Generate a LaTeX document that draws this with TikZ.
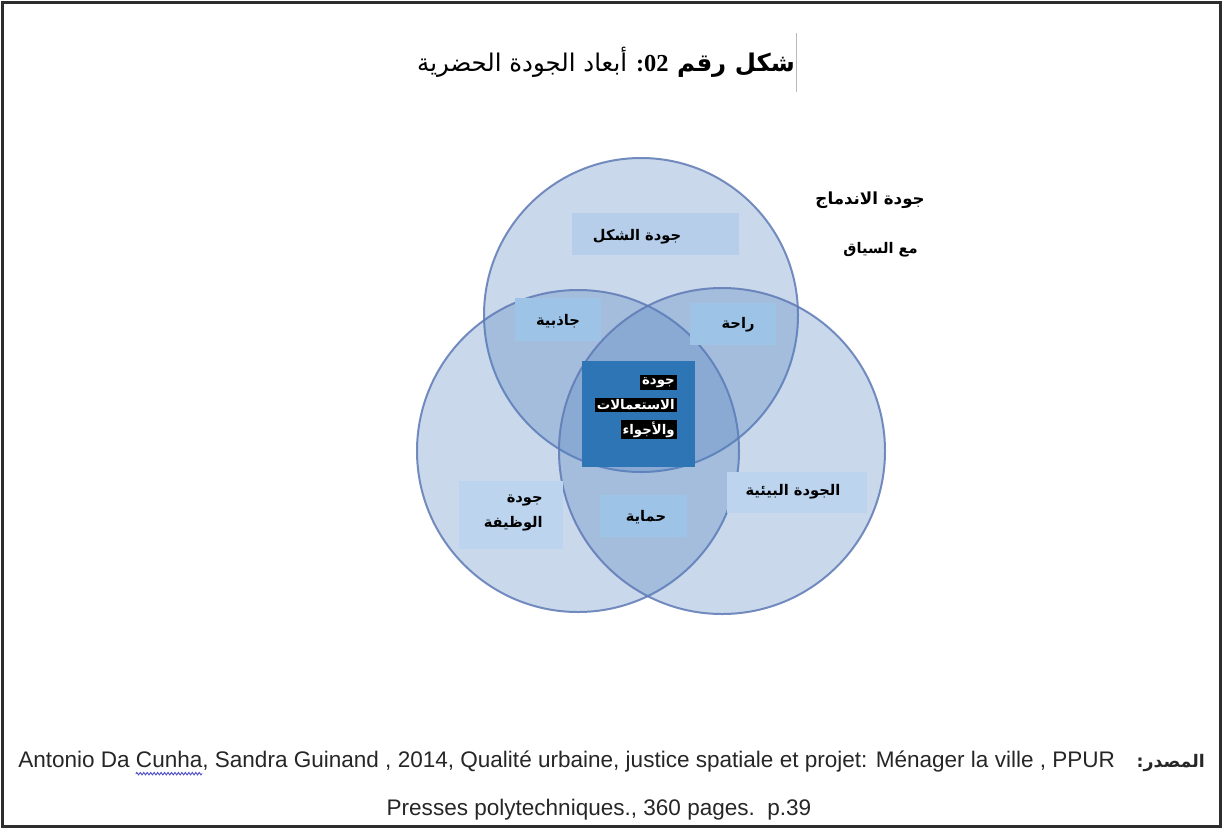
\documentclass[tikz,border=0pt]{standalone}
\usepackage{fontspec}
\setmainfont{Liberation Sans}
\newfontfamily\ar[Script=Arabic]{DejaVu Sans}
\newfontfamily\tnum{Liberation Serif}
\TeXXeTstate=1
\usetikzlibrary{decorations.pathmorphing}
\definecolor{cfill}{RGB}{79,129,189}
\definecolor{cline}{RGB}{95,122,182}
\definecolor{boxlight}{RGB}{188,212,238}
\definecolor{boxshakl}{RGB}{182,206,234}
\definecolor{boxmid}{RGB}{157,195,230}
\definecolor{boxdark}{RGB}{46,117,182}
\definecolor{framecol}{RGB}{45,45,45}
\definecolor{wavecol}{RGB}{80,80,200}
\newlength\wavestart
\newlength\wavelen
\newcommand\footfont{\fontsize{16.9}{20}\selectfont}
\begin{document}
\settowidth{\wavestart}{\footfont Antonio Da }%
\settowidth{\wavelen}{\footfont Cunha}%
\begin{tikzpicture}[x=0.75pt,y=-0.75pt,
  venn/.style={fill=cfill, fill opacity=0.3, draw=cline, draw opacity=0.85, line width=1.5pt},
  lblbox/.style={draw=none, inner sep=0pt},
  artext/.style={font=\ar\bfseries\fontsize{11}{19}\selectfont, text=black, inner sep=0pt},
  hiline/.style={font=\ar\bfseries\fontsize{10}{12}\selectfont, fill=black, text=white, inner xsep=1.5pt, inner ysep=1.5pt, anchor=east},
  foot/.style={font=\footfont, inner sep=0pt, text=black!85}]
\useasboundingbox (0,0) rectangle (1223,829);
\fill[white] (0,0) rectangle (1223,829);
\draw[framecol, line width=2pt] (2.5,2.5) rectangle (1220.5,826.5);

% title
\node[anchor=east, inner sep=0pt] (title) at (795,62)
  {\fontsize{18.3}{22}\selectfont\beginR{\ar\bfseries شكل رقم }{\tnum\bfseries\beginL 02\endL:} {\ar أبعاد الجودة الحضرية}\endR};
\draw[gray!55, line width=0.6pt] (796,33) -- (796,92);

% venn circles
\path[venn] (641,315) circle (157);
\path[venn] (578,451) circle (161);
\path[venn] (722,451) circle (163);

% boxes
\node[lblbox, fill=boxshakl, minimum width=125.25pt, minimum height=31.5pt] (bshakl) at (655.5,234) {};
\node[lblbox, fill=boxmid, minimum width=64.5pt, minimum height=32.25pt] (bjadh) at (558,319.5) {};
\node[lblbox, fill=boxmid, minimum width=64.5pt, minimum height=31.5pt] (braha) at (733,324) {};
\node[lblbox, fill=boxdark, minimum width=84.75pt, minimum height=79.5pt] (bcent) at (638.5,414) {};
\node[lblbox, fill=boxlight, minimum width=78pt, minimum height=51pt] (bwadh) at (511,515) {};
\node[lblbox, fill=boxmid, minimum width=65.25pt, minimum height=31.5pt] (bhim) at (643.5,516) {};
\node[lblbox, fill=boxlight, minimum width=105pt, minimum height=30.75pt] (bbii) at (797,492.5) {};

% labels
\node[artext] (tshakl) at (637,237) {\beginR جودة الشكل\endR};
\node[artext] (tjadh) at (558,321) {\beginR جاذبية\endR};
\node[artext] (traha) at (738,325) {\beginR راحة\endR};
\node[hiline] (c1) at (677,382.5) {\beginR جودة\endR};
\node[hiline] (c2) at (677,405) {\beginR الاستعمالات\endR};
\node[hiline] (c3) at (677,429.5) {\beginR والأجواء\endR};
\node[artext, align=right, anchor=east] (twadh) at (543,513) {\beginR جودة\endR\\\beginR الوظيفة\endR};
\node[artext] (thim) at (646,517) {\beginR حماية\endR};
\node[artext] (tbii) at (793,492) {\beginR الجودة البيئية\endR};
\node[artext, font=\ar\bfseries\fontsize{12.5}{15}\selectfont, anchor=east] (tind) at (925,200) {\beginR جودة الاندماج\endR};
\node[artext, anchor=east] (tsiy) at (918,250) {\beginR مع السياق\endR};

% footer
\node[foot, anchor=base west] (src) at (18,767) {Antonio Da Cunha, Sandra Guinand , 2014, Qualité urbaine, justice spatiale et projet: Ménager la ville , PPUR};
\node[foot, anchor=base east, font=\ar\bfseries\fontsize{13}{16}\selectfont] (srclbl) at (1205,767) {\beginR المصدر:\endR};
\node[foot, anchor=base] (src2) at (599,815) {Presses polytechniques., 360 pages.\ \ p.39};
\coordinate (wavebeg) at ([xshift=\wavestart, yshift=-5pt]src.base west);
\draw[wavecol, line width=0.7pt, decorate, decoration={snake, amplitude=0.9pt, segment length=2.6pt}]
  (wavebeg) -- ++(\wavelen,0);
\end{tikzpicture}
\end{document}
